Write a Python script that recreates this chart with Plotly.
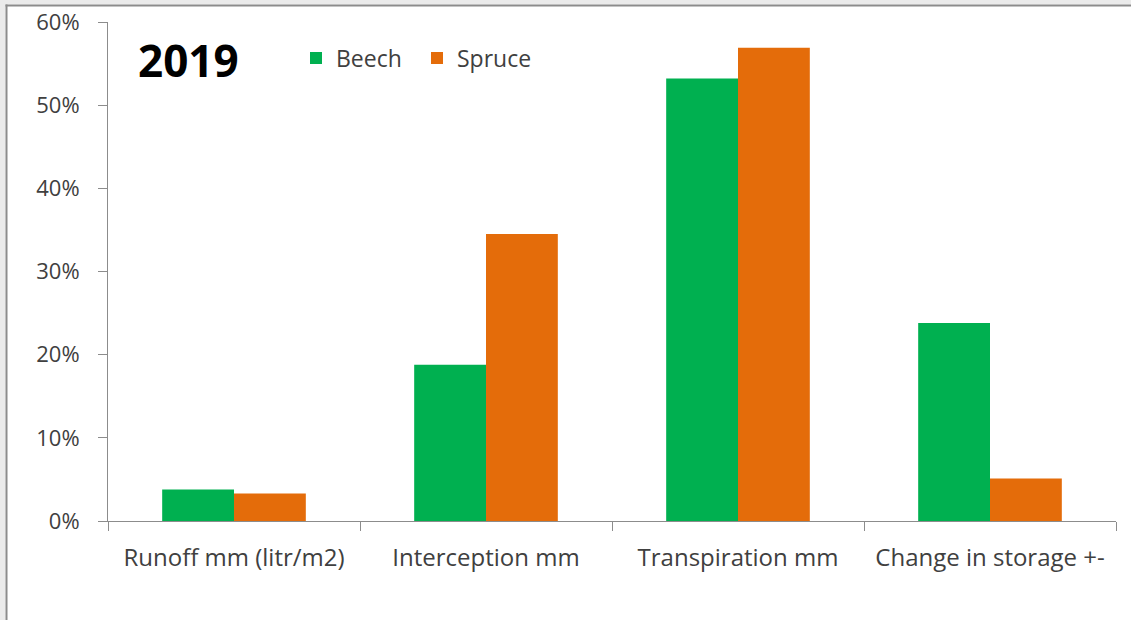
import plotly.graph_objects as go

# Water balance components, share of precipitation (2019)
categories = ["Runoff mm (litr/m2)", "Interception mm", "Transpiration mm", "Change in storage +-"]
beech = [0.038, 0.188, 0.532, 0.238]
spruce = [0.033, 0.345, 0.569, 0.051]

W, H = 1131, 620
ML, MR, MT, MB = 108, 15, 22, 99
PW, PH = W - ML - MR, H - MT - MB


def px(x):
    return (x - ML) / PW


def py(y):
    return 1 - (y - MT) / PH


FONT = "Open Sans"
TEXT = "#404040"
AXIS = "#8c8c8c"

fig = go.Figure()
fig.add_trace(go.Bar(name="Beech", x=categories, y=beech, marker=dict(color="#00B050", line=dict(width=0))))
fig.add_trace(go.Bar(name="Spruce", x=categories, y=spruce, marker=dict(color="#E46C0A", line=dict(width=0))))

# outer frame: light margin strip with a grey border line
shapes = [
    dict(type="rect", xref="paper", yref="paper", x0=px(0), x1=px(W), y0=py(0), y1=py(4.5),
         fillcolor="#ebebeb", line=dict(width=0), layer="below"),
    dict(type="rect", xref="paper", yref="paper", x0=px(0), x1=px(5.5), y0=py(0), y1=py(H),
         fillcolor="#ebebeb", line=dict(width=0), layer="below"),
    dict(type="rect", xref="paper", yref="paper", x0=px(5.5), x1=px(W), y0=py(4.5), y1=py(6.5),
         fillcolor="#8c8c8c", line=dict(width=0), layer="below"),
    dict(type="rect", xref="paper", yref="paper", x0=px(5.5), x1=px(7.5), y0=py(4.5), y1=py(H),
         fillcolor="#8c8c8c", line=dict(width=0), layer="below"),
]

fig.update_layout(
    width=W, height=H,
    margin=dict(l=ML, r=MR, t=MT, b=MB, pad=0, autoexpand=False),
    paper_bgcolor="white", plot_bgcolor="white",
    barmode="group", bargap=0.43, bargroupgap=0,
    font=dict(family=FONT, size=22, color=TEXT),
    shapes=shapes,
    showlegend=True,
    legend=dict(orientation="h", x=px(296), y=py(58), xanchor="left", yanchor="middle",
                font=dict(family=FONT, size=23, color=TEXT), bgcolor="rgba(0,0,0,0)",
                entrywidth=76, entrywidthmode="pixels"),
    annotations=[dict(text="<b>2019</b>", xref="paper", yref="paper", x=px(136), y=py(60),
                      xanchor="left", yanchor="middle", showarrow=False,
                      font=dict(family=FONT, size=44, color="black"))],
    xaxis=dict(showline=True, linecolor=AXIS, linewidth=1, ticks="outside", ticklen=9,
               tickcolor=AXIS, tickson="boundaries", showgrid=False, automargin=False,
               tickfont=dict(family=FONT, size=24, color=TEXT), ticklabelstandoff=15),
    yaxis=dict(range=[0, 0.6], dtick=0.1, tickformat=".0%", showline=True, linecolor=AXIS,
               linewidth=1, ticks="outside", ticklen=9, tickcolor=AXIS, showgrid=False,
               zeroline=False, automargin=False, tickfont=dict(family=FONT, size=22, color=TEXT),
               ticklabelstandoff=14),
)

fig.write_html("out.html")
